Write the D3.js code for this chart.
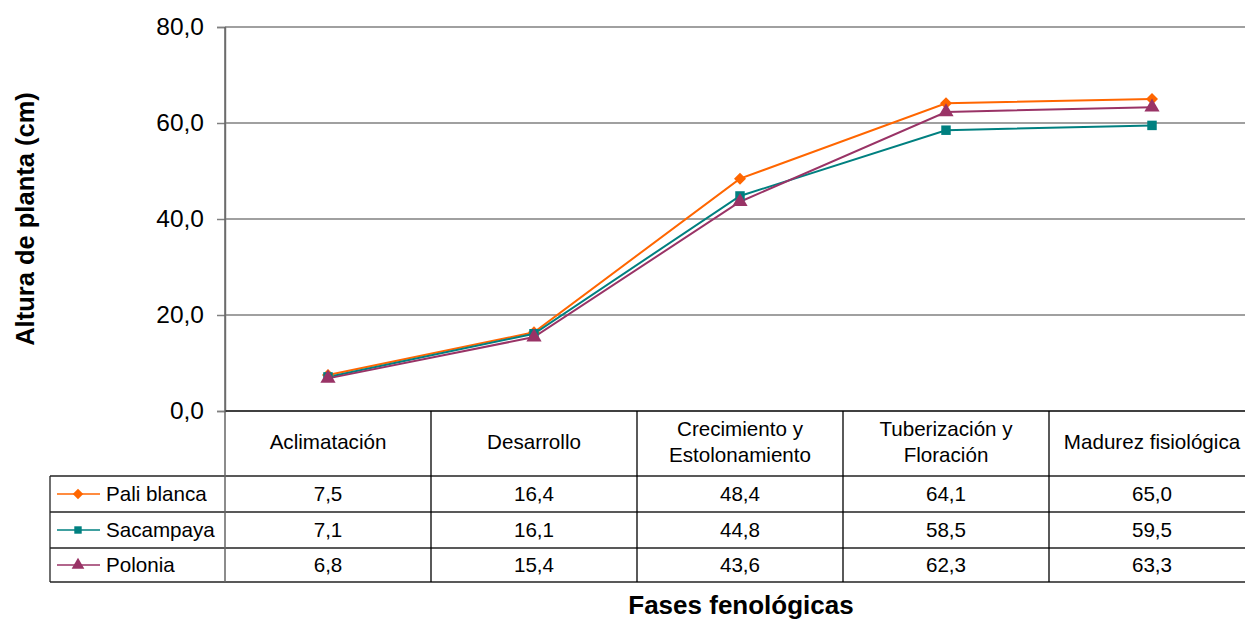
<!DOCTYPE html>
<html><head><meta charset="utf-8">
<script src="https://cdn.jsdelivr.net/npm/d3@7"></script>
<style>body{margin:0;background:#fff}svg{display:block;font-family:"Liberation Sans",Arial,sans-serif}</style>
</head><body><svg id="c" width="1245" height="619"></svg>
<script>
const categories = [["Aclimatación"], ["Desarrollo"], ["Crecimiento y","Estolonamiento"], ["Tuberización y","Floración"], ["Madurez fisiológica"]];
const seriesNames = ["Pali blanca", "Sacampaya", "Polonia"];
const paliBlanca = [7.5, 16.4, 48.4, 64.1, 65.0];
const sacampaya = [7.1, 16.1, 44.8, 58.5, 59.5];
const polonia = [6.8, 15.4, 43.6, 62.3, 63.3];
const yTicks = [0, 20, 40, 60, 80];
const colors = ["#FF6600", "#008080", "#993366"];
const symbols = [d3.symbolSquare, d3.symbolSquare, d3.symbolTriangle];
const rotations = [45, 0, 0];
const series = [paliBlanca, sacampaya, polonia];

(function(){
const svg = d3.select("#c");
const pLeft = 225, pRight = 1255, pTop = 27, pBottom = 411;
const x = d3.scaleBand().domain(d3.range(categories.length)).range([pLeft, pRight]);
const y = d3.scaleLinear().domain([0, 80]).range([pBottom, pTop]);
const fmt = v => d3.format(".1f")(v).replace(".", ",");
const FS = 20.6;

svg.append("g").selectAll("line").data(yTicks.filter(t => t > 0)).join("line")
  .attr("x1", pLeft).attr("x2", pRight).attr("y1", d => y(d)).attr("y2", d => y(d))
  .attr("stroke", "#808080").attr("stroke-width", 1.5);

const ya = svg.append("g").attr("transform", `translate(${pLeft},0)`)
  .call(d3.axisLeft(y).tickValues(yTicks).tickFormat(fmt).tickSize(8).tickPadding(13));
ya.select(".domain").attr("stroke", "#808080").attr("stroke-width", 1.5);
ya.selectAll(".tick line").attr("stroke", "#808080").attr("stroke-width", 1.5);
ya.selectAll(".tick text").attr("font-size", 24.5).attr("fill", "#000").attr("font-family", "Liberation Sans, Arial, sans-serif");

const rowY = [411, 476, 512, 548, 582];
const tg = svg.append("g");
tg.append("line").attr("x1", pLeft).attr("x2", pRight).attr("y1", rowY[0]).attr("y2", rowY[0]).attr("stroke", "#000").attr("stroke-width", 1.5);
rowY.slice(1).forEach(ry => {
  tg.append("line").attr("x1", 50).attr("x2", pRight).attr("y1", ry).attr("y2", ry).attr("stroke", "#222").attr("stroke-width", 1.3);
});
tg.append("line").attr("x1", 50).attr("x2", 50).attr("y1", rowY[1]).attr("y2", rowY[4]).attr("stroke", "#222").attr("stroke-width", 1.3);
tg.append("line").attr("x1", pLeft).attr("x2", pLeft).attr("y1", pTop).attr("y2", rowY[4]).attr("stroke", "#666").attr("stroke-width", 1.5);
d3.range(1, categories.length).forEach(i => {
  tg.append("line").attr("x1", x(i)).attr("x2", x(i)).attr("y1", rowY[0]).attr("y2", rowY[4]).attr("stroke", "#000").attr("stroke-width", 1.3);
});
categories.forEach((c, i) => {
  const cx = x(i) + x.bandwidth() / 2;
  const mid = (rowY[0] + rowY[1]) / 2;
  const lh = 26;
  c.forEach((line, j) => {
    tg.append("text").attr("x", cx).attr("y", mid + (j - (c.length - 1) / 2) * lh + 5)
      .attr("text-anchor", "middle").attr("font-size", FS).text(line);
  });
});
series.forEach((s, si) => {
  const ry = (rowY[si + 1] + rowY[si + 2]) / 2;
  s.forEach((v, i) => {
    tg.append("text").attr("x", x(i) + x.bandwidth() / 2).attr("y", ry + 7)
      .attr("text-anchor", "middle").attr("font-size", FS).text(fmt(v));
  });
  tg.append("line").attr("x1", 57).attr("x2", 100).attr("y1", ry).attr("y2", ry).attr("stroke", colors[si]).attr("stroke-width", 1.5);
  tg.append("path").attr("d", d3.symbol().type(symbols[si]).size(si === 2 ? 70 : 55)())
    .attr("transform", `translate(78,${ry}) rotate(${rotations[si]})`).attr("fill", colors[si]);
  tg.append("text").attr("x", 106).attr("y", ry + 7).attr("font-size", FS).text(seriesNames[si]);
});

const line = d3.line().x((d, i) => x(i) + x.bandwidth() / 2).y(d => y(d));
series.forEach((s, si) => {
  svg.append("path").datum(s).attr("d", line).attr("fill", "none").attr("stroke", colors[si]).attr("stroke-width", 2);
});
series.forEach((s, si) => {
  svg.append("g").selectAll("path").data(s).join("path")
    .attr("d", d3.symbol().type(symbols[si]).size(si === 2 ? 100 : (si === 0 ? 72 : 90))())
    .attr("transform", (d, i) => `translate(${x(i) + x.bandwidth() / 2},${y(d)}) rotate(${rotations[si]})`)
    .attr("fill", colors[si]);
});

svg.append("text").attr("transform", "translate(34,219) rotate(-90)").attr("text-anchor", "middle")
  .attr("font-size", 25.5).attr("font-weight", "bold").text("Altura de planta (cm)");
svg.append("text").attr("x", 741).attr("y", 614).attr("text-anchor", "middle")
  .attr("font-size", 26).attr("font-weight", "bold").text("Fases fenológicas");
})();
</script></body></html>
